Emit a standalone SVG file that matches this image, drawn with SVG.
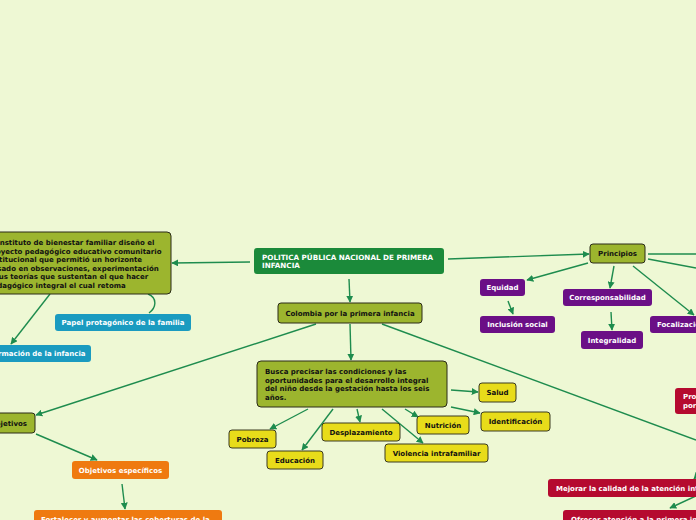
<svg xmlns="http://www.w3.org/2000/svg" width="696" height="520" viewBox="0 0 696 520">
<defs>
<style>
text{font-family:"DejaVu Sans","Verdana",sans-serif;font-weight:bold;font-size:7px}
.ol{fill:#9cb52e;stroke:#2a2a18;stroke-width:1}
.ye{fill:#e8dc1a;stroke:#3a3a20;stroke-width:1}
.te{fill:#1a9bc0}
.pu{fill:#6b0f86}
.or{fill:#ef7a10}
.re{fill:#b50a2f}
.gr{fill:#1b8a3a}
.dk{fill:#111}
.wh{fill:#fff}
.c{fill:none;stroke:#1e8c4e;stroke-width:1.4}
.ca{fill:none;stroke:#1e8c4e;stroke-width:1.4;marker-end:url(#ah)}
</style>
<marker id="ah" viewBox="0 0 10 10" refX="9" refY="5" markerWidth="5" markerHeight="5" orient="auto" markerUnits="strokeWidth">
<path d="M0,0 L10,5 L0,10 z" fill="#1e8c4e"/>
</marker>
</defs>
<rect width="696" height="520" fill="#eef8d4"/>
<g id="connectors">
<path class="ca" d="M250,262 L172,263"/>
<path class="ca" d="M448,259 L589,254"/>
<path class="c" d="M648,254 L696,254"/>
<path class="c" d="M648,259 L696,268"/>
<path class="ca" d="M349,279 L350,302"/>
<path class="c" d="M148,294 C158,298 156,308 149,313"/>
<path class="ca" d="M50,294 L11,344"/>
<path class="ca" d="M316,324 L36,415"/>
<path class="ca" d="M36,434 L97,460"/>
<path class="ca" d="M122,484 L125,509"/>
<path class="ca" d="M350,324 L351,360"/>
<path class="c" d="M382,324 L696,440"/>
<path class="ca" d="M308,409 L270,429"/>
<path class="ca" d="M333,409 L302,450"/>
<path class="ca" d="M357,409 L360,422"/>
<path class="ca" d="M382,409 L423,443"/>
<path class="ca" d="M405,409 L418,417"/>
<path class="ca" d="M451,390 L478,392"/>
<path class="ca" d="M451,407 L480,413"/>
<path class="ca" d="M588,263 L527,280"/>
<path class="ca" d="M508,301 L513,314"/>
<path class="ca" d="M614,266 L610,288"/>
<path class="ca" d="M611,312 L612,330"/>
<path class="ca" d="M633,266 L694,315"/>
<path class="ca" d="M702,470 L694,479"/>
<path class="ca" d="M696,496 L670,508"/>
</g>
<g id="root">
<rect class="gr" x="254" y="248" width="190" height="26" rx="3"/>
<text class="wh" x="262" y="260" style="font-size:7.2px">POLITICA PÚBLICA NACIONAL DE PRIMERA</text>
<text class="wh" x="262" y="268" style="font-size:7.2px">INFANCIA</text>
</g>
<g id="colombia">
<rect class="ol" x="278" y="303" width="144" height="20" rx="3"/>
<text class="dk" x="350" y="315.5" text-anchor="middle">Colombia por la primera infancia</text>
</g>
<g id="instituto">
<rect class="ol" x="-12" y="232" width="183" height="62" rx="4"/>
<text class="dk" x="-12.5" y="245">El Instituto de bienestar familiar diseño el</text>
<text class="dk" x="-12.5" y="253.6">proyecto pedagógico educativo comunitario</text>
<text class="dk" x="-12.5" y="262.2">institucional que permitió un horizonte</text>
<text class="dk" x="-12.5" y="270.8">basado en observaciones, experimentación</text>
<text class="dk" x="-12.5" y="279.4">y sus teorías que sustentan el que hacer</text>
<text class="dk" x="-12.5" y="288">pedagógico integral el cual retoma</text>
</g>
<g id="papel">
<rect class="te" x="55" y="314" width="136" height="17" rx="3"/>
<text class="wh" x="123" y="325" text-anchor="middle">Papel protagónico de la familia</text>
</g>
<g id="formacion">
<rect class="te" x="-40" y="345" width="131" height="17" rx="3"/>
<text class="wh" x="85.5" y="356" text-anchor="end">Formación de la infancia</text>
</g>
<g id="objetivos">
<rect class="ol" x="-20" y="413" width="55" height="20" rx="3"/>
<text class="dk" x="27" y="425.5" text-anchor="end">Objetivos</text>
</g>
<g id="obj-especificos">
<rect class="or" x="72" y="461" width="97" height="18" rx="3"/>
<text class="wh" x="120.5" y="472.5" text-anchor="middle">Objetivos específicos</text>
</g>
<g id="fortalecer">
<rect class="or" x="34" y="510" width="188" height="20" rx="3"/>
<text class="wh" x="41" y="522">Fortalecer y aumentar las coberturas de la</text>
</g>
<g id="busca">
<rect class="ol" x="257" y="361" width="190" height="46" rx="4"/>
<text class="dk" x="265" y="374">Busca precisar las condiciones y las</text>
<text class="dk" x="265" y="382.6">oportunidades para el desarrollo integral</text>
<text class="dk" x="265" y="391.2">del niño desde la gestación hasta los seis</text>
<text class="dk" x="265" y="399.8">años.</text>
</g>
<g id="pobreza">
<rect class="ye" x="229" y="430" width="47" height="18" rx="3"/>
<text class="dk" x="252.5" y="441.5" text-anchor="middle">Pobreza</text>
</g>
<g id="educacion">
<rect class="ye" x="267" y="451" width="56" height="18" rx="3"/>
<text class="dk" x="295" y="462.5" text-anchor="middle">Educación</text>
</g>
<g id="desplazamiento">
<rect class="ye" x="322" y="423" width="78" height="18" rx="3"/>
<text class="dk" x="361" y="434.5" text-anchor="middle">Desplazamiento</text>
</g>
<g id="violencia">
<rect class="ye" x="385" y="444" width="103" height="18" rx="3"/>
<text class="dk" x="436.5" y="455.5" text-anchor="middle">Violencia intrafamiliar</text>
</g>
<g id="nutricion">
<rect class="ye" x="417" y="416" width="52" height="18" rx="3"/>
<text class="dk" x="443" y="427.5" text-anchor="middle">Nutrición</text>
</g>
<g id="salud">
<rect class="ye" x="479" y="383" width="37" height="19" rx="3"/>
<text class="dk" x="497.5" y="395" text-anchor="middle">Salud</text>
</g>
<g id="identificacion">
<rect class="ye" x="481" y="412" width="69" height="19" rx="3"/>
<text class="dk" x="515.5" y="424" text-anchor="middle">Identificación</text>
</g>
<g id="principios">
<rect class="ol" x="590" y="244" width="55" height="19" rx="3"/>
<text class="dk" x="617.5" y="256" text-anchor="middle">Principios</text>
</g>
<g id="equidad">
<rect class="pu" x="480" y="279" width="45" height="17" rx="3"/>
<text class="wh" x="502.5" y="290" text-anchor="middle">Equidad</text>
</g>
<g id="inclusion">
<rect class="pu" x="480" y="316" width="75" height="17" rx="3"/>
<text class="wh" x="517.5" y="327" text-anchor="middle">Inclusión social</text>
</g>
<g id="corresponsabilidad">
<rect class="pu" x="563" y="289" width="89" height="17" rx="3"/>
<text class="wh" x="607.5" y="300" text-anchor="middle">Corresponsabilidad</text>
</g>
<g id="integralidad">
<rect class="pu" x="581" y="331" width="62" height="18" rx="3"/>
<text class="wh" x="612" y="342.5" text-anchor="middle">Integralidad</text>
</g>
<g id="focalizacion">
<rect class="pu" x="650" y="316" width="70" height="17" rx="3"/>
<text class="wh" x="657" y="327">Focalización</text>
</g>
<g id="pro">
<rect class="re" x="675" y="388" width="40" height="26" rx="3"/>
<text class="wh" x="683" y="399">Pro</text>
<text class="wh" x="683" y="407.5">por</text>
</g>
<g id="mejorar">
<rect class="re" x="548" y="479" width="170" height="18" rx="3"/>
<text class="wh" x="556" y="490.5">Mejorar la calidad de la atención integral</text>
</g>
<g id="ofrecer">
<rect class="re" x="563" y="510" width="160" height="20" rx="3"/>
<text class="wh" x="571" y="522">Ofrecer atención a la primera infancia</text>
</g>
</svg>
